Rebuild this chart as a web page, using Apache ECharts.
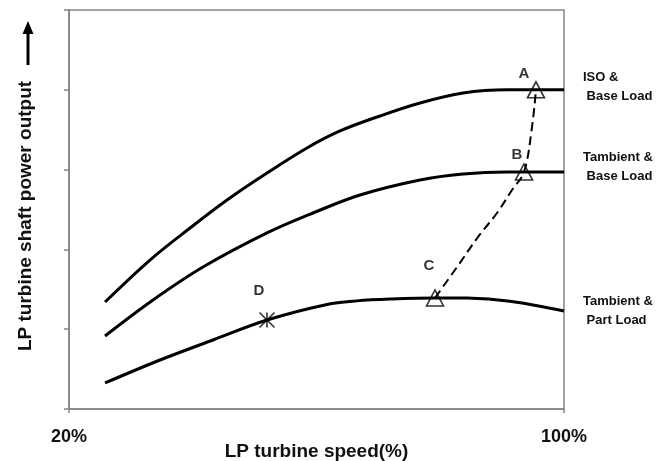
<!DOCTYPE html>
<html>
<head>
<meta charset="utf-8">
<script src="https://cdn.jsdelivr.net/npm/echarts@6/dist/echarts.min.js"></script>
<style>
  html, body { margin: 0; padding: 0; background: #ffffff; }
  #chart { width: 670px; height: 461px; }
</style>
</head>
<body>
<div id="chart"></div>
<script>
// LP turbine speed (%) on x, relative shaft power output on y
const speedTicks = [20, 100];

const isoBaseSpeed  = [25.82, 33.09, 39.56, 45.54, 52.0, 58.46, 63.8, 70.26, 76.73, 83.68, 90.79, 95.47, 100];
const isoBasePower  = [1.341, 1.867, 2.268, 2.619, 2.957, 3.271, 3.484, 3.672, 3.835, 3.96, 4.0, 4.0, 4.0];

const ambBaseSpeed  = [25.82, 33.58, 41.66, 52.0, 59.43, 67.03, 76.73, 83.68, 90.79, 93.54, 100];
const ambBasePower  = [0.915, 1.366, 1.779, 2.206, 2.456, 2.682, 2.87, 2.945, 2.97, 2.97, 2.97];

const ambPartSpeed  = [25.82, 34.71, 43.27, 52.0, 61.7, 66.5, 71.88, 79.15, 84.32, 91.27, 100];
const ambPartPower  = [0.326, 0.614, 0.865, 1.115, 1.31, 1.355, 1.378, 1.392, 1.39, 1.35, 1.228];

// operating path C -> B -> A
const pathSpeed = [79.15, 82.71, 86.1, 89.17, 91.6, 93.54, 94.83, 95.47];
const pathPower = [1.392, 1.779, 2.155, 2.456, 2.744, 2.97, 3.534, 4.0];

const pointNames = ['A', 'B', 'C', 'D'];
const pointSpeed = [95.47, 93.54, 79.15, 52.0];
const pointPower = [4.0, 2.97, 1.392, 1.115];

const curveNames = ['ISO &\n Base Load', 'Tambient &\n Base Load', 'Tambient &\n Part Load'];

const zip = (xs, ys) => xs.map((x, i) => [x, ys[i]]);

const FONT = '"Liberation Sans", Arial, sans-serif';
const AXIS_GREY = '#858585';

// marker look and label placement for each lettered point
const pointStyle = {
  A: { symbol: 'triangle', size: [17, 16], offset: [-12, -16] },
  B: { symbol: 'triangle', size: [17, 16], offset: [-7, -17] },
  C: { symbol: 'triangle', size: [17, 16], offset: [-6, -32] },
  D: { symbol: 'path://M0 0 L20 20 M0 20 L20 0 M10 0 L10 20', size: [15, 15], offset: [-8, -29] }
};

const endLabelOffsets = [[0, -3], [0, -5], [0, 0]];

function curve(name, data, idx) {
  return {
    type: 'line',
    name: name,
    data: data,
    smooth: 0.35,
    showSymbol: false,
    lineStyle: { color: '#000', width: 3 },
    endLabel: {
      show: true,
      formatter: name,
      distance: 19,
      offset: endLabelOffsets[idx],
      align: 'left',
      verticalAlign: 'middle',
      fontFamily: FONT,
      fontWeight: 'bold',
      fontSize: 13,
      lineHeight: 19,
      color: '#111'
    },
    z: 2
  };
}

const chart = echarts.init(document.getElementById('chart'), null, { renderer: 'canvas' });

chart.setOption({
  animation: false,
  backgroundColor: '#ffffff',
  grid: {
    left: 69, right: 106, top: 10, bottom: 52,
    outerBoundsMode: 'none',
    containLabel: false,
    show: true,
    borderColor: AXIS_GREY,
    borderWidth: 1.5,
    backgroundColor: 'transparent'
  },
  xAxis: {
    type: 'value',
    min: 20,
    max: 100,
    interval: 10,
    name: 'LP turbine speed(%)',
    nameLocation: 'middle',
    nameGap: 33,
    nameMoveOverlap: false,
    nameTextStyle: { fontFamily: FONT, fontWeight: 'bold', fontSize: 19, color: '#111' },
    axisLine: { show: true, lineStyle: { color: AXIS_GREY, width: 1.5 } },
    axisTick: { show: true, customValues: speedTicks, length: 4, lineStyle: { color: AXIS_GREY, width: 1.5 } },
    axisLabel: {
      show: true,
      customValues: speedTicks,
      formatter: v => v + '%',
      margin: 19,
      fontFamily: FONT, fontWeight: 'bold', fontSize: 18, color: '#111'
    },
    splitLine: { show: false }
  },
  yAxis: {
    type: 'value',
    min: 0,
    max: 5,
    interval: 1,
    axisLine: { show: true, lineStyle: { color: AXIS_GREY, width: 1.5 } },
    axisTick: { show: true, inside: false, length: 5, lineStyle: { color: AXIS_GREY, width: 1.5 } },
    axisLabel: { show: false },
    splitLine: { show: false }
  },
  graphic: [
    {
      type: 'text',
      x: 26, y: 216,
      rotation: Math.PI / 2,
      style: {
        text: 'LP turbine shaft power output',
        fontFamily: FONT, fontWeight: 'bold', fontSize: 19,
        fill: '#111', align: 'center', verticalAlign: 'middle'
      }
    },
    {
      type: 'line',
      shape: { x1: 28, y1: 65, x2: 28, y2: 32 },
      style: { stroke: '#000', lineWidth: 3 }
    },
    {
      type: 'polygon',
      shape: { points: [[22.5, 34], [33.5, 34], [28, 21]] },
      style: { fill: '#000' }
    }
  ],
  series: [
    curve(curveNames[0], zip(isoBaseSpeed, isoBasePower), 0),
    curve(curveNames[1], zip(ambBaseSpeed, ambBasePower), 1),
    curve(curveNames[2], zip(ambPartSpeed, ambPartPower), 2),
    {
      type: 'line',
      name: 'path',
      data: zip(pathSpeed, pathPower),
      smooth: 0.35,
      showSymbol: false,
      lineStyle: { color: '#000', width: 2, type: [9, 5] },
      z: 3
    },
    {
      type: 'scatter',
      name: 'points',
      data: pointNames.map((n, i) => {
        const s = pointStyle[n];
        return {
          name: n,
          value: [pointSpeed[i], pointPower[i]],
          symbol: s.symbol,
          symbolSize: s.size,
          label: { offset: s.offset }
        };
      }),
      itemStyle: { color: 'rgba(0,0,0,0)', borderColor: '#000', borderWidth: 1.6 },
      label: {
        show: true,
        position: 'inside',
        formatter: '{b}',
        fontFamily: FONT, fontWeight: 'bold', fontSize: 15, color: '#000',
        textBorderWidth: 0
      },
      z: 4
    }
  ]
});
</script>
</body>
</html>
